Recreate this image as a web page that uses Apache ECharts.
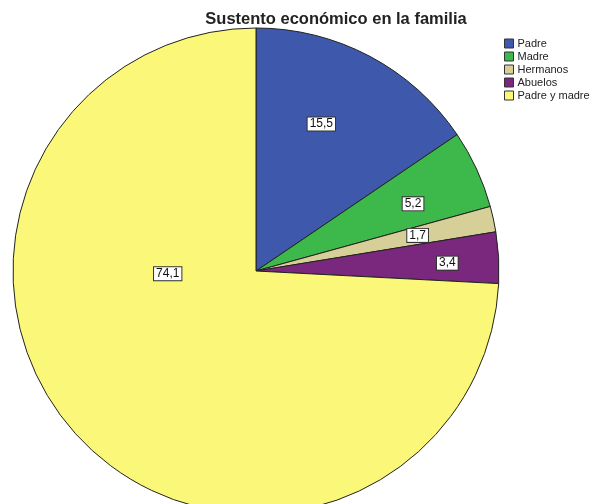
<!DOCTYPE html>
<html>
<head>
<meta charset="utf-8">
<script src="https://cdn.jsdelivr.net/npm/echarts@6/dist/echarts.min.js"></script>
<style>
  html, body { margin: 0; padding: 0; background: #fff; }
  #chart { width: 593px; height: 504px; }
</style>
</head>
<body>
<div id="chart"></div>
<script>
const categories = ['Padre', 'Madre', 'Hermanos', 'Abuelos', 'Padre y madre']
const values = [15.5, 5.2, 1.7, 3.4, 74.1]
const colors = ['#3e58ac', '#3cb94a', '#d6d098', '#7a287d', '#fbf779']
// nudge labels to where the original puts them
const labelOffsets = [[7, -37], [44, -15], [40, -9], [67, -1], [2, -83]]

const chart = echarts.init(document.getElementById('chart'))

const option = {
  backgroundColor: '#fff',
  animation: false,
  title: {
    text: 'Sustento económico en la familia',
    left: 336,
    top: 11,
    padding: 0,
    textAlign: 'center',
    textStyle: {
      fontFamily: 'Liberation Sans',
      fontSize: 16.5,
      fontWeight: 'bold',
      color: '#222'
    }
  },
  legend: {
    orient: 'vertical',
    left: 504,
    top: 38,
    padding: 0,
    itemWidth: 9,
    itemHeight: 9,
    itemGap: 2,
    icon: 'rect',
    data: categories,
    itemStyle: { borderColor: '#333', borderWidth: 1 },
    textStyle: {
      fontFamily: 'Liberation Sans',
      fontSize: 11,
      color: '#222',
      lineHeight: 11,
      padding: [0, 0, 0, -1]
    }
  },
  series: [
    {
      type: 'pie',
      center: [256, 271],
      radius: 243,
      startAngle: 90,
      clockwise: true,
      avoidLabelOverlap: false,
      labelLine: { show: false },
      itemStyle: { borderColor: '#222', borderWidth: 1 },
      emphasis: { disabled: true },
      label: {
        show: true,
        position: 'inside',
        fontFamily: 'Liberation Sans',
        fontSize: 12,
        color: '#111',
        backgroundColor: '#fff',
        borderColor: '#333',
        borderWidth: 1,
        padding: [1, 2, 0, 2],
        formatter: p => p.value.toFixed(1).replace('.', ',')
      },
      data: categories.map((name, i) => ({
        name,
        value: values[i],
        itemStyle: { color: colors[i] },
        label: { offset: labelOffsets[i] }
      }))
    }
  ]
}

chart.setOption(option)
</script>
</body>
</html>
